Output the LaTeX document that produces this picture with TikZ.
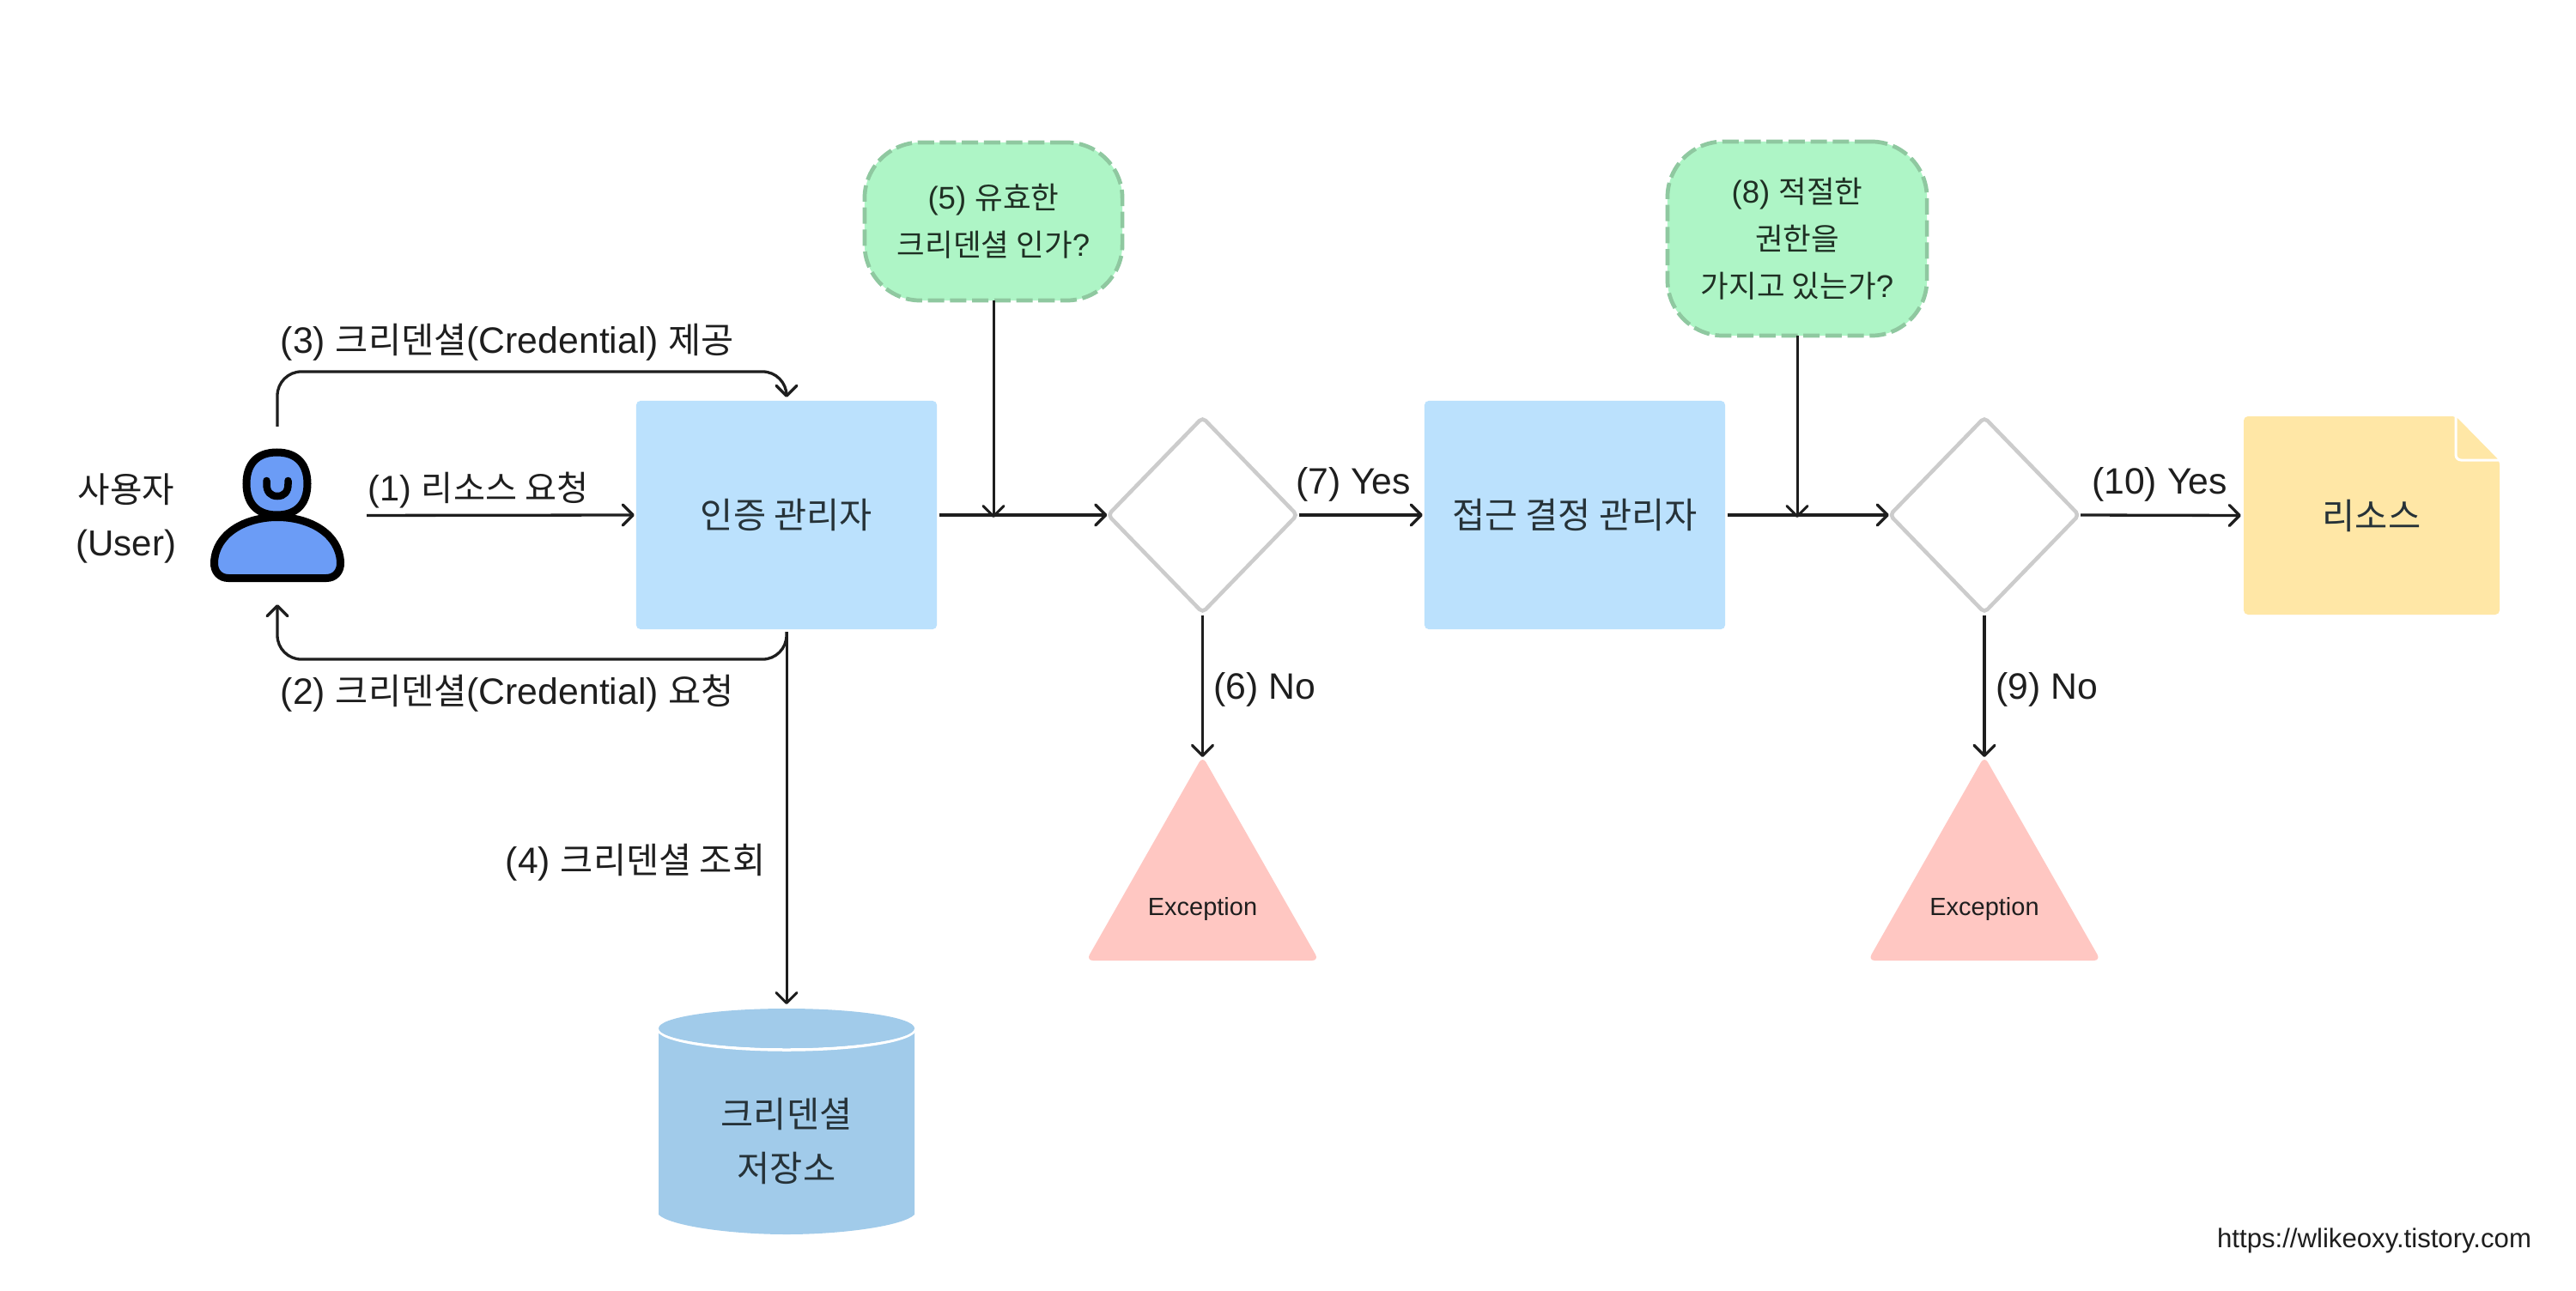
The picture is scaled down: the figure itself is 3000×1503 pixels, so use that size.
\documentclass[tikz,border=0pt]{standalone}
\usepackage{fontspec}
\setmainfont[Scale=1.03]{Liberation Sans}
\newfontfamily\kr{Noto Sans CJK KR}
\usetikzlibrary{arrows.meta,shapes.geometric,calc}
\definecolor{ink}{HTML}{1E1E1E}
\definecolor{boxink}{HTML}{263238}
\definecolor{qink}{HTML}{1F3024}
\definecolor{boxblue}{HTML}{BBE1FD}
\definecolor{dbblue}{HTML}{A1CBEA}
\definecolor{qgreen}{HTML}{AEF5C6}
\definecolor{qedge}{HTML}{8FC8A0}
\definecolor{exred}{HTML}{FFC7C2}
\definecolor{noteyel}{HTML}{FFE7A6}
\definecolor{dgray}{HTML}{CCCCCC}
\definecolor{userblue}{HTML}{6B9CF6}
\tikzset{
  lab/.style={font=\fontsize{11.8}{15}\selectfont,text=ink,inner sep=0pt,outer sep=0pt,align=center},
  small/.style={font=\fontsize{8}{10}\selectfont,text=ink,inner sep=0pt,outer sep=0pt},
  procbox/.style={rectangle,fill=boxblue,rounded corners=0.05cm,minimum width=3.5cm,minimum height=2.66cm,inner sep=0pt,outer sep=0pt,font=\fontsize{11.8}{15}\selectfont,text=boxink},
  qbox/.style={rectangle,fill=qgreen,draw=qedge,line width=0.047cm,dash pattern=on 0.19cm off 0.067cm,rounded corners=0.65cm,inner sep=0pt,outer sep=0pt,align=center,text=qink},
  gate/.style={diamond,draw=dgray,line width=0.045cm,fill=white,minimum width=2.2cm,minimum height=2.27cm,inner sep=0pt,outer sep=0pt,rounded corners=0.05cm},
  arr/.style={draw=ink,line width=0.033cm,-{Straight Barb[length=0.12cm,width=0.24cm,round]}},
}
\begin{document}
\begin{tikzpicture}[x=0.01cm,y=-0.01cm]
\useasboundingbox[fill=white] (0,0) rectangle (3000,1503);

% user icon
\draw[line width=0.09cm,draw=black,fill=userblue]
  (287,563.5) .. controls (287,542) and (298,527) .. (322.5,527)
  .. controls (347,527) and (358,542) .. (358,563.5)
  .. controls (358,585) and (347,600) .. (322.5,600)
  .. controls (298,600) and (287,585) .. (287,563.5) -- cycle;
\draw[line width=0.09cm,draw=black,fill=userblue]
  (249.5,655) .. controls (251,622) and (285,602.5) .. (323,602.5)
  .. controls (361,602.5) and (395,622) .. (396.5,655)
  .. controls (397,666) and (390,673.5) .. (380,673.5) -- (266,673.5)
  .. controls (256,673.5) and (249,666) .. (249.5,655) -- cycle;
\draw[line width=0.085cm,draw=black,line cap=round] (310.5,560) -- (310.5,564) .. controls (310.5,573) and (315,578) .. (323,578) .. controls (331,578) and (335.5,573) .. (335.5,564) -- (335.5,560);
\node[rectangle,minimum width=1.56cm,minimum height=1.57cm,inner sep=0pt,outer sep=0pt] (user) at (323,600.5) {};
\node[lab,font=\fontsize{11.6}{17.9}\selectfont] (userlab) at (147,604) {{\kr 사용자}\\(User)};

% main boxes
\node[procbox] (am) at (916,600) {\raisebox{-0.02cm}{\kr 인증 관리자}};
\node[procbox] (dm) at (1834,600) {\raisebox{-0.02cm}{\kr 접근 결정 관리자}};

% question boxes
\node[qbox,minimum width=3.0cm,minimum height=1.84cm,font=\fontsize{10.1}{15.6}\selectfont] (q5) at (1157,258) {(5) {\kr 유효한}\\{\kr 크리덴셜 인가}?};
\node[qbox,minimum width=3.02cm,minimum height=2.26cm,font=\fontsize{10.1}{15.6}\selectfont] (q8) at (2093,278) {(8) {\kr 적절한}\\{\kr 권한을}\\{\kr 가지고 있는가}?};

% gates
\node[gate] (g1) at (1400.5,600) {};
\node[gate] (g2) at (2311,600) {};

% exceptions
\fill[exred,rounded corners=0.08cm] (1400.5,881) -- (1536,1119) -- (1265,1119) -- cycle;
\fill[exred,rounded corners=0.08cm] (2311,881) -- (2446.5,1119) -- (2175.5,1119) -- cycle;
\coordinate (e1tip) at (1400.5,885);
\coordinate (e2tip) at (2311,885);
\node[small] (e1) at (1400.5,1059) {Exception};
\node[small] (e2) at (2311,1059) {Exception};

% resource note
\fill[noteyel,rounded corners=0.05cm] (2613,485) -- (2860,485) -- (2911,537) -- (2911,716) -- (2613,716) -- cycle;
\path[fill=white] (2861,484) -- (2912,484) -- (2912,535.5) -- cycle;
\draw[white,line width=0.03cm,rounded corners=0.06cm] (2860,485) -- (2860,536) -- (2911,536);
\node[rectangle,minimum width=2.98cm,minimum height=2.31cm,inner sep=0pt,outer sep=0pt,font=\fontsize{11.8}{15}\selectfont,text=boxink] (res) at (2762,600.5) {\raisebox{-0.02cm}{\kr 리소스}};

% database
\fill[dbblue] (767,1198) -- (767,1415) .. controls (780,1428) and (850,1438) .. (916,1438)
  .. controls (982,1438) and (1052,1428) .. (1065,1415) -- (1065,1198) -- cycle;
\draw[white,line width=0.035cm,fill=dbblue] (916,1198) ellipse [x radius=150,y radius=25];
\fill[white] (760,1170) rectangle (1070,1198);
\fill[dbblue] (916,1198) ellipse [x radius=149,y radius=23];
\node[lab,font=\fontsize{11.8}{17.9}\selectfont,text=boxink] (db) at (916,1329) {{\kr 크리덴셜}\\{\kr 저장소}};
\coordinate (dbtop) at (916,1175);

% connectors
\draw[arr,shorten <=0.26cm,shorten >=0.02cm] (user.east) -- (am.west);
\draw[arr,rounded corners=0.28cm,shorten <=0.25cm,shorten >=0.04cm] (user.north) -- ++(0,-89) -| (am.north);
\draw[arr,rounded corners=0.28cm,shorten <=0.03cm,shorten >=0.25cm] (am.south) -- ++(0,35) -| (user.south);
\draw[arr,line width=0.03cm,shorten <=0.03cm,shorten >=0.05cm] (am.south) -- (dbtop);
\draw[arr,shorten <=0.03cm,shorten >=0.01cm] (am.east) -- (g1.west);
\draw[arr,line width=0.03cm,shorten >=-0.03cm] (q5.south) -- (q5.south |- am.east);
\draw[arr,shorten <=0.02cm,shorten >=0.02cm] (g1.east) -- (dm.west);
\draw[arr,shorten <=0.03cm,shorten >=0.03cm] (g1.south) -- (e1tip);
\draw[arr,shorten <=0.03cm,shorten >=0.01cm] (dm.east) -- (g2.west);
\draw[arr,line width=0.03cm,shorten >=-0.03cm] (q8.south) -- (q8.south |- dm.east);
\draw[arr,shorten <=0.02cm,shorten >=0.03cm] (g2.east) -- (res.west);
\draw[arr,shorten <=0.03cm,shorten >=0.03cm] (g2.south) -- (e2tip);

% labels
\node[lab,font=\fontsize{11.45}{15}\selectfont] (l1) at (557,571) {(1) {\kr 리소스 요청}};
\node[lab] (l3) at (591,399) {(3) {\kr 크리덴셜}(Credential) {\kr 제공}};
\node[lab] (l2) at (591,808) {(2) {\kr 크리덴셜}(Credential) {\kr 요청}};
\node[lab] (l4) at (740,1005) {(4) {\kr 크리덴셜 조회}};
\node[lab] (l7) at (1576,564) {(7) Yes};
\node[lab] (l6) at (1473,803) {(6) No};
\node[lab] (l9) at (2384,803) {(9) No};
\node[lab] (l10) at (2515,564) {(10) Yes};
\node[small,font=\fontsize{8.6}{10}\selectfont] (url) at (2765,1445) {https://wlikeoxy.tistory.com};
\end{tikzpicture}
\end{document}
